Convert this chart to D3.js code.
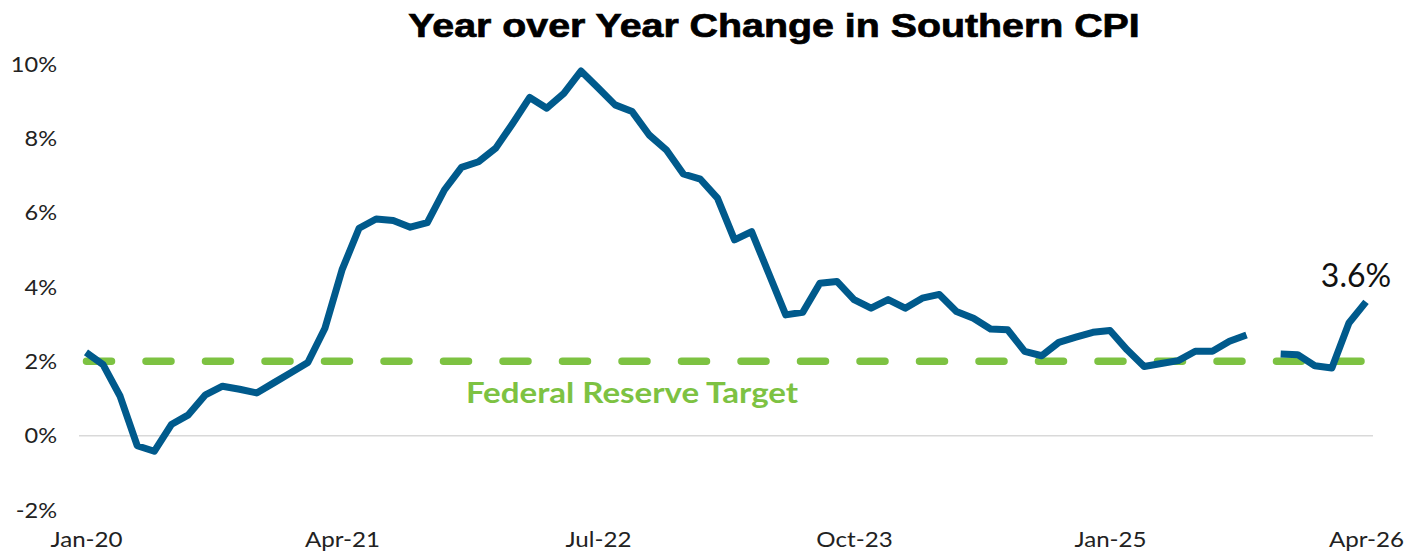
<!DOCTYPE html>
<html>
<head>
<meta charset="utf-8">
<script src="https://cdn.jsdelivr.net/npm/d3@7"></script>
<style>
  body { margin: 0; background: #fff; }
  text { font-family: Lato, "Open Sans", sans-serif; }
</style>
</head>
<body>
<svg></svg>
<script>
var width = 1419;
var height = 552;

// monthly categories Jan-20 .. Apr-26
var fmt = d3.timeFormat("%b-%y");
var months = d3.timeMonth.range(new Date(2020, 0, 1), new Date(2026, 4, 1)).map(fmt);

// year over year change, % (Oct-25 not published)
var cpi = [
  2.24, 1.91, 1.06, -0.27, -0.42, 0.30, 0.56, 1.10, 1.33, 1.25, 1.15, 1.42,
  1.69, 1.97, 2.89, 4.46, 5.58, 5.83, 5.79, 5.61, 5.73, 6.61, 7.22, 7.37,
  7.73, 8.40, 9.10, 8.81, 9.21, 9.81, 9.36, 8.90, 8.72, 8.09, 7.69, 7.04,
  6.90, 6.39, 5.27, 5.49, 4.37, 3.25, 3.32, 4.10, 4.15, 3.66, 3.43, 3.66,
  3.43, 3.70, 3.80, 3.34, 3.16, 2.87, 2.85, 2.27, 2.15, 2.51, 2.65, 2.78,
  2.83, 2.31, 1.86, 1.94, 2.02, 2.27, 2.27, 2.54, 2.71, null, 2.20, 2.18,
  1.88, 1.82, 3.03, 3.60
];

var target = 2;
var xTicks = ["Jan-20", "Apr-21", "Jul-22", "Oct-23", "Jan-25", "Apr-26"];
var yTicks = [-2, 0, 2, 4, 6, 8, 10];

var svg = d3.select("svg")
            .attr("width", width)
            .attr("height", height)

var x = d3.scalePoint()
          .domain(months)
          .range([86, 1366])

var y = d3.scaleLinear()
          .domain([-2, 10])
          .range([510, 64])

// title (source text is a bit wider than the fonts we have, so stretch it)
var title = svg.append("text")
   .attr("transform", "translate(774,37) scale(1,1)")
   .attr("text-anchor", "middle")
   .style("font-family", "'Liberation Sans', Arial, sans-serif")
   .style("font-size", "33px")
   .style("font-weight", 700)
   .style("fill", "#000")
   .style("stroke", "#000")
   .style("stroke-width", 0.7)
   .text("Year over Year Change in Southern CPI")

var tw = title.node().getComputedTextLength();
title.attr("transform", "translate(774,37) scale(" + (732 / tw) + ",1)")

// zero line
svg.append("line")
   .attr("x1", 79)
   .attr("x2", 1373)
   .attr("y1", y(0))
   .attr("y2", y(0))
   .style("stroke", "#d9d9d9")
   .style("stroke-width", 1.5)

// y axis labels
var yAxis = d3.axisLeft(y)
              .tickValues(yTicks)
              .tickSize(0)
              .tickPadding(0)
              .tickFormat(function(d) { return d + "%"; })

svg.append("g")
   .attr("transform", "translate(57,0)")
   .call(yAxis)
   .call(function(g) { g.select(".domain").remove(); })
   .selectAll("text")
   .attr("transform", "scale(1.07,1)")
   .style("font-size", "22px")
   .style("fill", "#222")
   .style("font-family", "Lato, sans-serif")

// x axis labels
var xAxis = d3.axisBottom(x)
              .tickValues(xTicks)
              .tickSize(0)
              .tickPadding(0)

svg.append("g")
   .attr("transform", "translate(0,532)")
   .call(xAxis)
   .call(function(g) { g.select(".domain").remove(); })
   .selectAll("text")
   .attr("transform", "scale(1.15,1)")
   .style("font-size", "21px")
   .style("fill", "#222")
   .style("font-family", "Lato, sans-serif")

// fed target
svg.append("line")
   .attr("x1", x(months[0]) + 0.5)
   .attr("x2", x(months[months.length - 1]) - 5)
   .attr("y1", y(target))
   .attr("y2", y(target))
   .style("stroke", "#7dc242")
   .style("stroke-width", 7.5)
   .style("stroke-linecap", "round")
   .style("stroke-dasharray", "25,34.5")

svg.append("text")
   .attr("transform", "translate(632,403) scale(1.14,1)")
   .attr("text-anchor", "middle")
   .style("font-size", "29px")
   .style("font-weight", 700)
   .style("fill", "#7dc242")
   .text("Federal Reserve Target")

// cpi line
var lineFunction = d3.line()
                     .defined(function(d) { return d != null; })
                     .x(function(d, i) { return x(months[i]); })
                     .y(function(d) { return y(d); })

svg.append("path")
   .attr("d", lineFunction(cpi))
   .attr("fill", "none")
   .attr("stroke", "#005a8c")
   .attr("stroke-width", 7)
   .attr("stroke-linejoin", "round")

// last value label
var last = cpi.length - 1;
svg.append("text")
   .attr("x", x(months[last]) - 10)
   .attr("y", y(cpi[last]) - 15)
   .attr("text-anchor", "middle")
   .style("font-size", "32px")
   .style("font-weight", 400)
   .style("fill", "#111")
   .text(d3.format(".1f")(cpi[last]) + "%")
</script>
</body>
</html>
